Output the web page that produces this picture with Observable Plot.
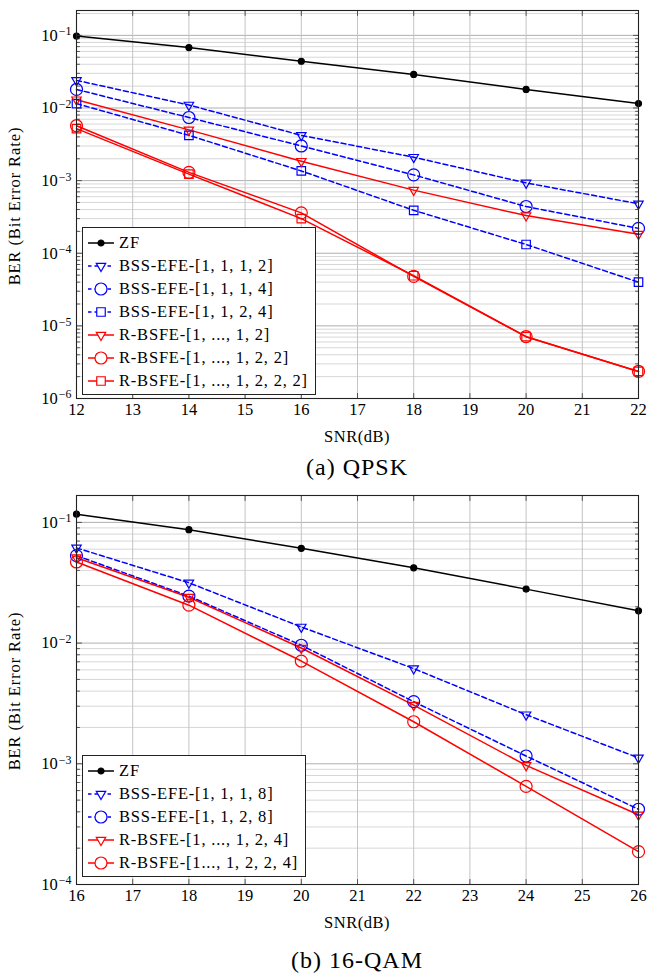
<!DOCTYPE html>
<html><head><meta charset="utf-8">
<script src="https://cdn.jsdelivr.net/npm/d3@7"></script>
<script src="https://cdn.jsdelivr.net/npm/@observablehq/plot@0.6"></script>
<style>
body{margin:0;background:#fff;font-family:"Liberation Serif","DejaVu Serif",serif;color:#000;}
.panel{position:relative;width:647px;}
.lbl{position:absolute;left:76px;width:562px;text-align:center;white-space:nowrap;}
.ylbl{position:absolute;width:400px;text-align:center;white-space:nowrap;font-size:16.5px;letter-spacing:0.9px;transform:rotate(-90deg);transform-origin:center center;line-height:20px;}
.legend{position:absolute;left:82px;border:1px solid #222;background:#fff;box-sizing:border-box;padding:3px 7px 2px 4px;}
.row{height:23px;display:flex;align-items:center;font-size:16.5px;letter-spacing:0.8px;white-space:nowrap;}
.row svg{margin-right:4px;flex:none;}
</style></head><body>
<div id="pa" class="panel" style="height:485px"></div>
<div id="pb" class="panel" style="height:495px"></div>
<script>
// ---------- data: (a) QPSK ----------
const SNR_A = [12, 14, 16, 18, 20, 22];
const A_ZF        = [0.098, 0.068, 0.044, 0.029, 0.018, 0.0115];
const A_BSS_1112  = [0.024, 0.011, 0.0042, 0.0021, 0.00093, 0.00048];
const A_BSS_1114  = [0.018, 0.0074, 0.0030, 0.0012, 0.00044, 0.00022];
const A_BSS_1124  = [0.0115, 0.0042, 0.00136, 0.00039, 0.000132, 0.00004];
const A_RB_12     = [0.013, 0.005, 0.00185, 0.00074, 0.00033, 0.000183];
const A_RB_122    = [0.0057, 0.0013, 0.00036, 0.000048, 0.0000071, 0.00000236];
const A_RB_1222   = [0.0052, 0.00123, 0.00030, 0.000049, 0.0000071, 0.00000236];
const NAMES_A = ["ZF", "BSS-EFE-[1, 1, 1, 2]", "BSS-EFE-[1, 1, 1, 4]", "BSS-EFE-[1, 1, 2, 4]",
  "R-BSFE-[1, ..., 1, 2]", "R-BSFE-[1, ..., 1, 2, 2]", "R-BSFE-[1, ..., 1, 2, 2, 2]"];
const VALUES_A = [A_ZF, A_BSS_1112, A_BSS_1114, A_BSS_1124, A_RB_12, A_RB_122, A_RB_1222];
const YTICKS_A = [1e-6, 1e-5, 1e-4, 1e-3, 1e-2, 1e-1];
const XTICKS_A = [12, 13, 14, 15, 16, 17, 18, 19, 20, 21, 22];

// ---------- data: (b) 16-QAM ----------
const SNR_B = [16, 18, 20, 22, 24, 26];
const B_ZF        = [0.117, 0.087, 0.061, 0.042, 0.028, 0.0185];
const B_BSS_1118  = [0.0615, 0.0316, 0.0136, 0.00615, 0.00255, 0.00112];
const B_BSS_1128  = [0.053, 0.0245, 0.0096, 0.00327, 0.00116, 0.00042];
const B_RB_124    = [0.051, 0.024, 0.0091, 0.00306, 0.00097, 0.000378];
const B_RB_1224   = [0.047, 0.0206, 0.0071, 0.00223, 0.00065, 0.000187];
const NAMES_B = ["ZF", "BSS-EFE-[1, 1, 1, 8]", "BSS-EFE-[1, 1, 2, 8]",
  "R-BSFE-[1, ..., 1, 2, 4]", "R-BSFE-[1..., 1, 2, 2, 4]"];
const VALUES_B = [B_ZF, B_BSS_1118, B_BSS_1128, B_RB_124, B_RB_1224];
const YTICKS_B = [1e-4, 1e-3, 1e-2, 1e-1];
const XTICKS_B = [16, 17, 18, 19, 20, 21, 22, 23, 24, 25, 26];

// ---------- styles ----------
const BLUE = "#0000ff", RED = "#ff0000", BLACK = "#000";
const triDown = { draw(ctx, size) {
  const a = Math.sqrt(size * 4 / Math.sqrt(3)), h = a * Math.sqrt(3) / 2;
  ctx.moveTo(0, 2 * h / 3); ctx.lineTo(a / 2, -h / 3); ctx.lineTo(-a / 2, -h / 3); ctx.closePath();
}};
const ST = {
  zf:   {color: BLACK, dash: null, sym: "circle", r: 3, fill: BLACK},
  btri: {color: BLUE, dash: "5,3", sym: triDown, r: 3.5, fill: "none"},
  bcir: {color: BLUE, dash: "5,3", sym: "circle", r: 6, fill: "none"},
  bsq:  {color: BLUE, dash: "5,3", sym: "square", r: 4.8, fill: "none"},
  rtri: {color: RED, dash: null, sym: triDown, r: 3.5, fill: "none"},
  rcir: {color: RED, dash: null, sym: "circle", r: 6, fill: "none"},
  rsq:  {color: RED, dash: null, sym: "square", r: 4.8, fill: "none"}
};
const STYLES_A = [ST.zf, ST.btri, ST.bcir, ST.bsq, ST.rtri, ST.rcir, ST.rsq];
const STYLES_B = [ST.zf, ST.btri, ST.bcir, ST.rtri, ST.rcir];

const fmtPow = d => "10^" + String(Math.round(Math.log10(d))).replace("-", "\u2212");
const tickShape = { draw(ctx, l) { ctx.moveTo(0, 0); ctx.lineTo(0, -l); } };

function minorsOf(decades, top) {
  const out = [];
  for (const d of decades) for (let k = 2; k <= 9; k++) if (d * k <= top) out.push(d * k);
  return out;
}

function superscripts(svg) {
  svg.querySelectorAll("text").forEach(t => {
    const s = t.textContent;
    if (!s.includes("^")) return;
    const [base, exp] = s.split("^");
    t.textContent = base;
    const ts = document.createElementNS("http://www.w3.org/2000/svg", "tspan");
    ts.setAttribute("dy", "-0.45em");
    ts.setAttribute("font-size", "0.72em");
    ts.setAttribute("dx", "1");
    ts.textContent = exp;
    t.appendChild(ts);
  });
}

function chart({snr, values, names, styles, yDomain, yTicks, xTicks, height, marginBottom}) {
  const rows = [];
  names.forEach((n, i) => values[i].forEach((v, j) => rows.push({name: n, snr: snr[j], ber: v, i})));
  const minors = minorsOf(yTicks, yDomain[1]);
  const allY = yTicks.concat(minors);
  const x0 = xTicks[0], x1 = xTicks[xTicks.length - 1];
  const marks = [
    Plot.gridY(minors, {stroke: "#d2d2d2", strokeOpacity: 1, strokeWidth: 0.9}),
    Plot.gridY(yTicks, {stroke: "#b0b0b0", strokeOpacity: 1, strokeWidth: 1}),
    Plot.gridX(xTicks, {stroke: "#c4c4c4", strokeOpacity: 1, strokeWidth: 1}),
    Plot.axisY(yTicks, {tickSize: 0, tickPadding: 5, tickFormat: fmtPow, fontSize: 16.5, label: null}),
    Plot.axisX(xTicks, {tickSize: 0, tickPadding: 5, tickFormat: d => String(d), fontSize: 16.5, label: null})
  ];
  names.forEach((n, i) => {
    const s = styles[i], d = rows.filter(r => r.i === i);
    marks.push(Plot.line(d, {x: "snr", y: "ber", stroke: s.color, strokeWidth: 1.5, strokeDasharray: s.dash}));
  });
  names.forEach((n, i) => {
    const s = styles[i], d = rows.filter(r => r.i === i);
    marks.push(Plot.dot(d, {x: "snr", y: "ber", symbol: s.sym, r: s.r, stroke: s.color, fill: s.fill, strokeWidth: 1.2}));
  });
  marks.push(
    Plot.vector(allY, {x: () => x0, y: d => d, length: d => yTicks.includes(d) ? 5 : 3, rotate: 90, anchor: "start", shape: tickShape, stroke: "#333", strokeWidth: 0.8}),
    Plot.vector(allY, {x: () => x1, y: d => d, length: d => yTicks.includes(d) ? 5 : 3, rotate: -90, anchor: "start", shape: tickShape, stroke: "#333", strokeWidth: 0.8}),
    Plot.vector(xTicks, {x: d => d, y: () => yDomain[0], length: 5, rotate: 0, anchor: "start", shape: tickShape, stroke: "#333", strokeWidth: 0.8}),
    Plot.vector(xTicks, {x: d => d, y: () => yDomain[1], length: 5, rotate: 180, anchor: "start", shape: tickShape, stroke: "#333", strokeWidth: 0.8}),
    Plot.frame({stroke: "#222", strokeWidth: 1.1})
  );
  const svg = Plot.plot({
    width: 647, height, marginLeft: 76, marginRight: 9, marginTop: 10, marginBottom,
    style: {fontFamily: "'Liberation Serif','DejaVu Serif',serif", fontSize: "16.5px", color: "#000", background: "#fff"},
    x: {domain: [x0, x1]},
    y: {type: "log", domain: yDomain},
    length: {type: "identity"},
    marks
  });
  superscripts(svg);
  return svg;
}

function swatch(s) {
  const ns = "http://www.w3.org/2000/svg";
  const svg = document.createElementNS(ns, "svg");
  svg.setAttribute("width", 28); svg.setAttribute("height", 16);
  const ln = document.createElementNS(ns, "line");
  ln.setAttribute("x1", 1); ln.setAttribute("x2", 27); ln.setAttribute("y1", 8); ln.setAttribute("y2", 8);
  ln.setAttribute("stroke", s.color); ln.setAttribute("stroke-width", 1.5);
  if (s.dash) ln.setAttribute("stroke-dasharray", "3.5,3");
  svg.appendChild(ln);
  const p = document.createElementNS(ns, "path");
  const sym = s.sym === "circle" ? d3.symbolCircle : s.sym === "square" ? d3.symbolSquare : s.sym;
  p.setAttribute("d", d3.symbol(sym, Math.PI * s.r * s.r)());
  p.setAttribute("transform", "translate(14,8)");
  p.setAttribute("stroke", s.color); p.setAttribute("fill", s.fill === "none" ? "#fff" : s.fill);
  p.setAttribute("stroke-width", 1.2);
  svg.appendChild(p);
  return svg;
}

function legend(names, styles, top) {
  const box = document.createElement("div");
  box.className = "legend"; box.style.top = top + "px";
  names.forEach((n, i) => {
    const r = document.createElement("div"); r.className = "row";
    r.appendChild(swatch(styles[i]));
    const t = document.createElement("span"); t.textContent = n; r.appendChild(t);
    box.appendChild(r);
  });
  return box;
}

function label(text, top, size, ls) {
  const d = document.createElement("div"); d.className = "lbl";
  d.style.top = top + "px"; d.style.fontSize = size + "px"; d.style.letterSpacing = ls + "px";
  d.textContent = text;
  return d;
}
function ylabel(text, centerY) {
  const d = document.createElement("div"); d.className = "ylbl";
  d.style.left = (15 - 200) + "px"; d.style.top = (centerY - 10) + "px";
  d.textContent = text;
  return d;
}

const pa = document.getElementById("pa");
pa.appendChild(chart({snr: SNR_A, values: VALUES_A, names: NAMES_A, styles: STYLES_A,
  yDomain: [1e-6, 0.22], yTicks: YTICKS_A, xTicks: XTICKS_A, height: 440, marginBottom: 42}));
pa.appendChild(legend(NAMES_A, STYLES_A, 227));
pa.appendChild(ylabel("BER (Bit Error Rate)", 206));
pa.appendChild(label("SNR(dB)", 427, 16.5, 0.5));
pa.appendChild(label("(a) QPSK", 454, 24, 1));

const pb = document.getElementById("pb");
pb.appendChild(chart({snr: SNR_B, values: VALUES_B, names: NAMES_B, styles: STYLES_B,
  yDomain: [1e-4, 0.167], yTicks: YTICKS_B, xTicks: XTICKS_B, height: 440, marginBottom: 41}));
pb.appendChild(legend(NAMES_B, STYLES_B, 270));
pb.appendChild(ylabel("BER (Bit Error Rate)", 206));
pb.appendChild(label("SNR(dB)", 428, 16.5, 0.5));
pb.appendChild(label("(b) 16-QAM", 462, 24, 1));
</script>
</body></html>
